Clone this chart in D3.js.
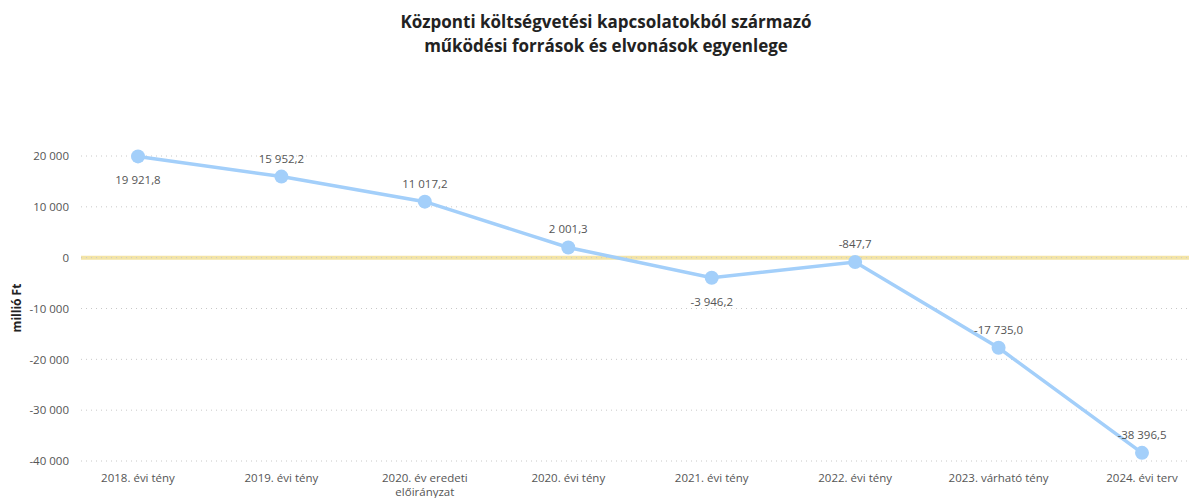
<!DOCTYPE html>
<html>
<head>
<meta charset="utf-8">
<script src="https://cdn.jsdelivr.net/npm/d3@7"></script>
<style>
  body { margin: 0; background: #fff; }
  svg { display: block; font-family: "Open Sans", "DejaVu Sans", sans-serif; }
</style>
</head>
<body>
<div id="chart"></div>
<script>
const categories = [
    "2018. évi tény",
    "2019. évi tény",
    "2020. év eredeti előirányzat",
    "2020. évi tény",
    "2021. évi tény",
    "2022. évi tény",
    "2023. várható tény",
    "2024. évi terv"
];
const values = [19921.8, 15952.2, 11017.2, 2001.3, -3946.2, -847.7, -17735.0, -38396.5];
const labelBelow = [true, false, false, false, true, false, false, false];
const yTicks = [20000, 10000, 0, -10000, -20000, -30000, -40000];

const width = 1189, height = 498;
const svg = d3.select("#chart")
    .append("svg")
    .attr("width", width)
    .attr("height", height);

const x = d3.scalePoint()
    .domain(categories)
    .range([138, 1142]);

const y = d3.scaleLinear()
    .domain([-40000, 20000])
    .range([461, 156]);

// hungarian style numbers: space thousands, comma decimal, plain hyphen minus
const hu = d3.formatLocale({ decimal: ",", thousands: " ", grouping: [3], currency: ["", " Ft"], minus: "-" });
const fmtTick = hu.format(",");
const fmtVal = hu.format(",.1f");

// title
svg.append("text")
    .attr("x", 606).attr("y", 28)
    .attr("text-anchor", "middle")
    .style("font-size", "17px").style("font-weight", "bold").attr("fill", "#222")
    .text("Központi költségvetési kapcsolatokból származó");
svg.append("text")
    .attr("x", 606).attr("y", 52)
    .attr("text-anchor", "middle")
    .style("font-size", "17px").style("font-weight", "bold").attr("fill", "#222")
    .text("működési források és elvonások egyenlege");

// zero line
svg.append("line")
    .attr("x1", 81).attr("x2", width)
    .attr("y1", y(0)).attr("y2", y(0))
    .attr("stroke", "#f3e4a6")
    .attr("stroke-width", 4);

// gridlines
const grid = svg.append("g");
grid.selectAll("line")
    .data(yTicks)
    .join("line")
    .attr("x1", 81).attr("x2", width)
    .attr("y1", d => y(d)).attr("y2", d => y(d))
    .attr("stroke", "#c8c8c8")
    .attr("stroke-width", 1)
    .attr("stroke-dasharray", "1,4");

// y axis
const yAxis = svg.append("g")
    .attr("transform", "translate(72,0)")
    .call(d3.axisLeft(y).tickValues(yTicks).tickFormat(fmtTick).tickSize(0));
yAxis.select(".domain").remove();
yAxis.selectAll("text")
    .attr("fill", "#555")
    .style("font-size", "11.5px")
    .style("font-family", "'Open Sans', sans-serif");

svg.append("text")
    .attr("transform", "translate(21,308) rotate(-90)")
    .attr("text-anchor", "middle")
    .style("font-size", "12px").style("font-weight", "bold").attr("fill", "#222")
    .text("millió Ft");

// x axis labels
const xLab = svg.append("g");
xLab.selectAll("text")
    .data(categories)
    .join("text")
    .attr("x", d => x(d))
    .attr("y", 482)
    .attr("text-anchor", "middle")
    .attr("fill", "#555")
    .style("font-size", "11.5px")
    .each(function (d) {
        const t = d3.select(this);
        if (d === "2020. év eredeti előirányzat") {
            t.append("tspan").attr("x", x(d)).attr("dy", 0).text("2020. év eredeti");
            t.append("tspan").attr("x", x(d)).attr("dy", 14).text("előirányzat");
        } else {
            t.text(d);
        }
    });

// line
const pts = categories.map((c, i) => ({ c, v: values[i], below: labelBelow[i] }));
svg.append("path")
    .datum(pts)
    .attr("fill", "none")
    .attr("stroke", "#a3cffa")
    .attr("stroke-width", 3.5)
    .attr("d", d3.line().x(d => x(d.c)).y(d => y(d.v)));

svg.append("g")
    .selectAll("circle")
    .data(pts)
    .join("circle")
    .attr("cx", d => x(d.c))
    .attr("cy", d => y(d.v))
    .attr("r", 7)
    .attr("fill", "#a3cffa");

// data labels
svg.append("g")
    .selectAll("text")
    .data(pts)
    .join("text")
    .attr("x", d => x(d.c))
    .attr("y", d => y(d.v) + (d.below ? 28 : -14))
    .attr("text-anchor", "middle")
    .attr("fill", "#555")
    .style("font-size", "11.5px")
    .text(d => fmtVal(d.v));
</script>
</body>
</html>
